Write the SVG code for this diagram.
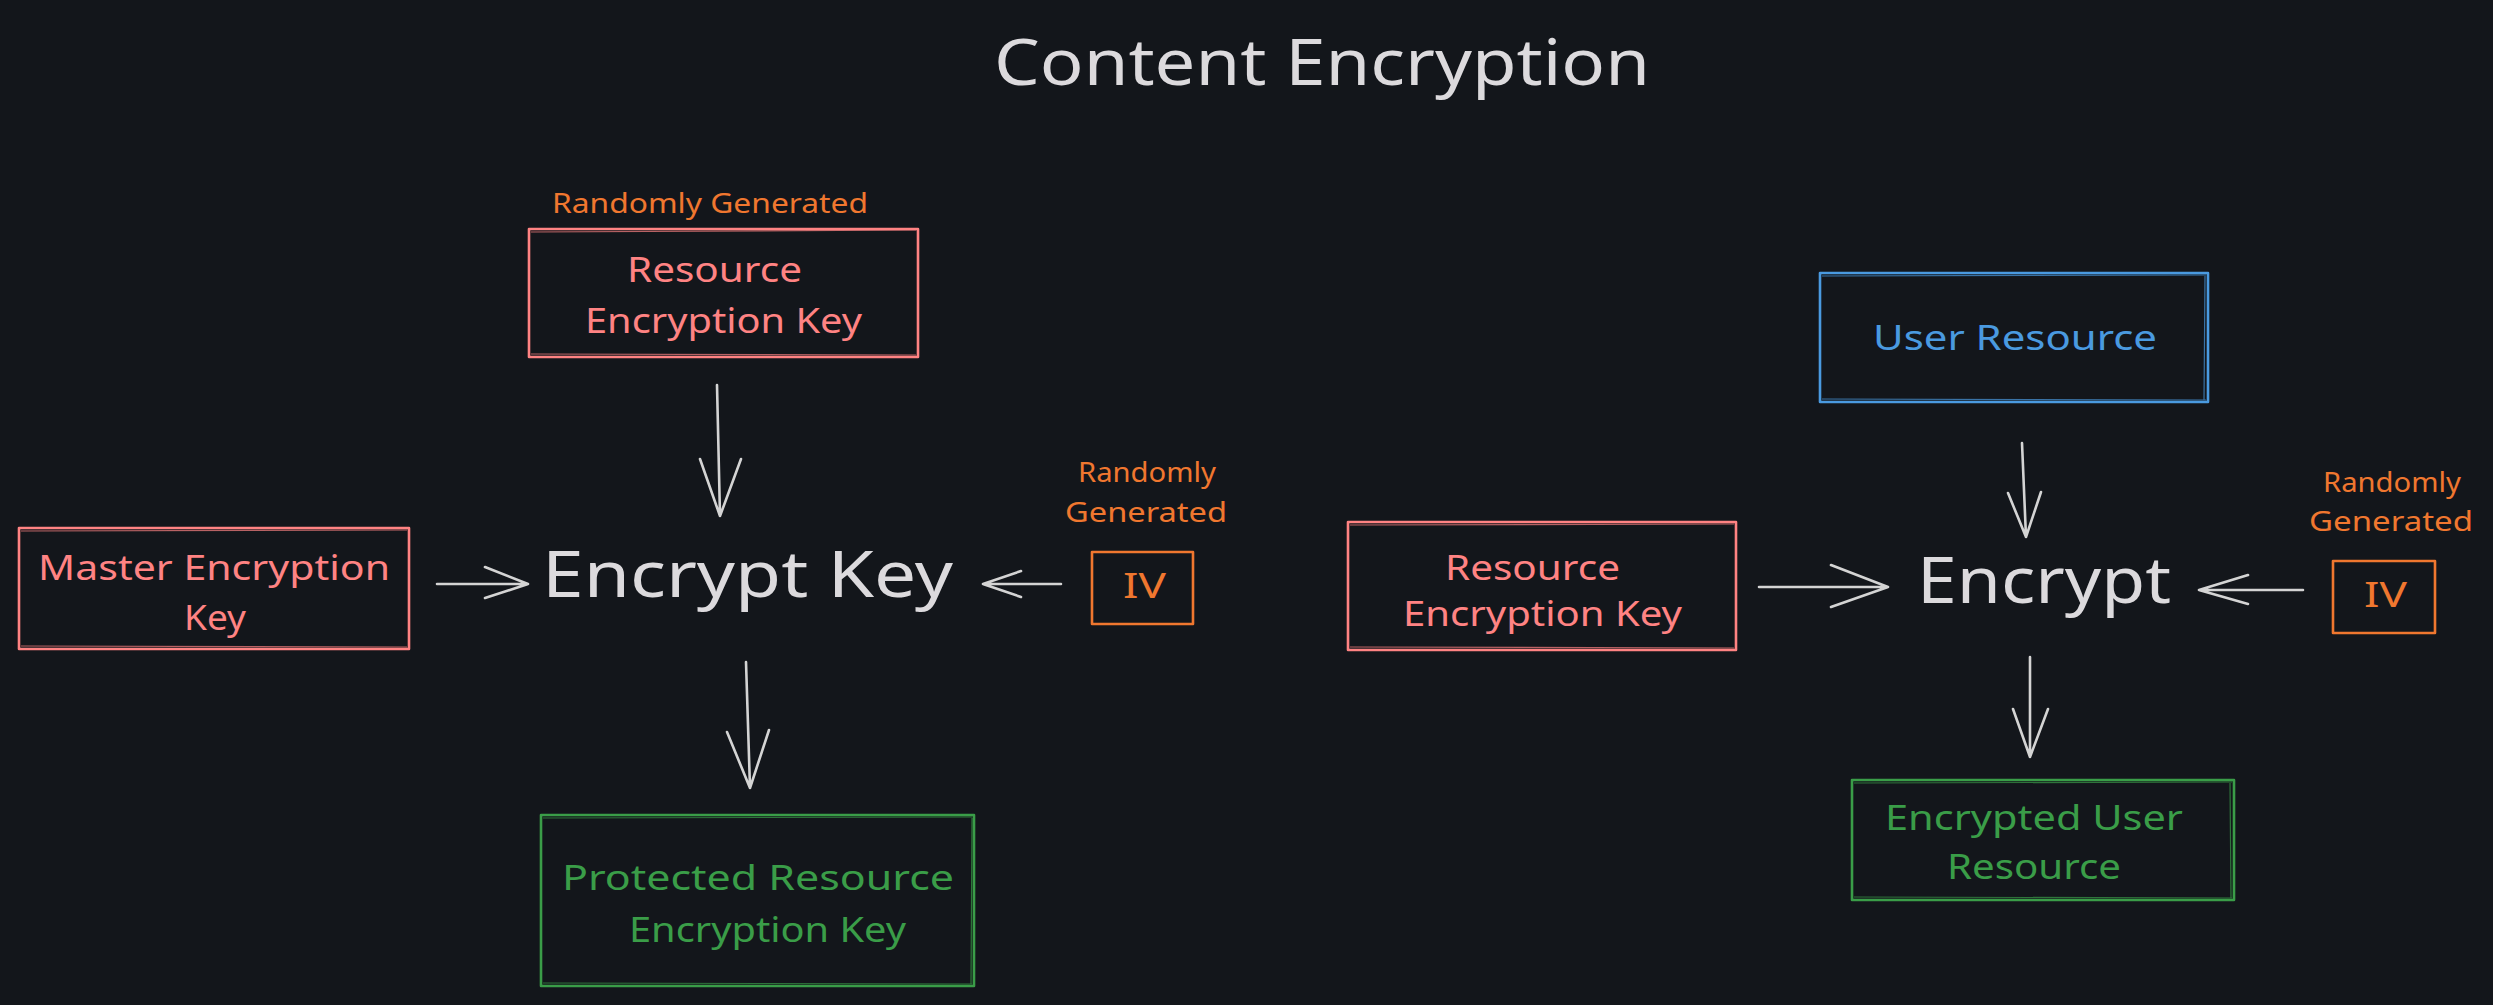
<svg xmlns="http://www.w3.org/2000/svg" width="2493" height="1005" viewBox="0 0 2493 1005">
<style>
text{font-family:"Noto Sans","Liberation Sans",sans-serif}
.t{fill:#dcdadd}
.big{font-size:63px}
.lb{font-size:35px}
.sm{font-size:28px}
.red{fill:#ff8383}
.org{fill:#f0772f}
.grn{fill:#3a9d48}
.blu{fill:#4a9ae0}
.box{fill:none;stroke-width:2.6;stroke-linejoin:round}
.box2{fill:none;stroke-width:1.2;opacity:0.7}
.sr{stroke:#ff8383}
.so{stroke:#f0772f}
.sg{stroke:#3a9d48}
.sb{stroke:#4a9ae0}
.arr{fill:none;stroke:#d4d4d4;stroke-width:2.6;stroke-linecap:round;stroke-linejoin:round}
</style>
<rect width="2493" height="1005" fill="#13161b"/>
<g id="title"><text class="t big" x="994" y="85" textLength="656" lengthAdjust="spacingAndGlyphs">Content Encryption</text></g>

<g id="rek1">
<text class="org sm" x="552" y="213" textLength="316" lengthAdjust="spacingAndGlyphs">Randomly Generated</text>
<rect class="box sr" x="529" y="229" width="389" height="128"/>
<path class="box2 sr" d="M531,232 L916,230 M916,355 L531,354"/>
<text class="red lb" x="627" y="282" textLength="175" lengthAdjust="spacingAndGlyphs">Resource</text>
<text class="red lb" x="585" y="333" textLength="277" lengthAdjust="spacingAndGlyphs">Encryption Key</text>
</g>

<g id="master">
<rect class="box sr" x="19" y="528" width="390" height="121"/>
<path class="box2 sr" d="M21,531 L407,530 M407,647 L21,646"/>
<text class="red lb" x="38" y="580" textLength="352" lengthAdjust="spacingAndGlyphs">Master Encryption</text>
<text class="red lb" x="184" y="630" textLength="62" lengthAdjust="spacingAndGlyphs">Key</text>
</g>

<g id="encryptkey"><text class="t big" x="542" y="597" textLength="411" lengthAdjust="spacingAndGlyphs">Encrypt Key</text></g>

<g id="iv1">
<text class="org sm" x="1078" y="482" textLength="138" lengthAdjust="spacingAndGlyphs">Randomly</text>
<text class="org sm" x="1065" y="522" textLength="162" lengthAdjust="spacingAndGlyphs">Generated</text>
<rect class="box so" x="1092" y="552" width="101" height="72"/>
<text class="org lb" x="1123" y="598" textLength="43" lengthAdjust="spacingAndGlyphs">IV</text>
</g>

<g id="protected">
<rect class="box sg" x="541" y="815" width="433" height="171"/>
<path class="box2 sg" d="M543,818 L972,817 M972,984 L543,983 M972,818 L971,984"/>
<text class="grn lb" x="562" y="890" textLength="392" lengthAdjust="spacingAndGlyphs">Protected Resource</text>
<text class="grn lb" x="629" y="942" textLength="277" lengthAdjust="spacingAndGlyphs">Encryption Key</text>
</g>

<g id="rek2">
<rect class="box sr" x="1348" y="522" width="388" height="128"/>
<path class="box2 sr" d="M1350,525 L1734,524 M1734,648 L1350,647"/>
<text class="red lb" x="1445" y="580" textLength="175" lengthAdjust="spacingAndGlyphs">Resource</text>
<text class="red lb" x="1403" y="626" textLength="279" lengthAdjust="spacingAndGlyphs">Encryption Key</text>
</g>

<g id="encrypt"><text class="t big" x="1917" y="603" textLength="254" lengthAdjust="spacingAndGlyphs">Encrypt</text></g>

<g id="userres">
<rect class="box sb" x="1820" y="273" width="388" height="129"/>
<path class="box2 sb" d="M1822,276 L2206,275 M2206,400 L1822,399 M2205,276 L2204,400"/>
<text class="blu lb" x="1873" y="350" textLength="284" lengthAdjust="spacingAndGlyphs">User Resource</text>
</g>

<g id="iv2">
<text class="org sm" x="2323" y="492" textLength="138" lengthAdjust="spacingAndGlyphs">Randomly</text>
<text class="org sm" x="2309" y="531" textLength="164" lengthAdjust="spacingAndGlyphs">Generated</text>
<rect class="box so" x="2333" y="561" width="102" height="72"/>
<text class="org lb" x="2364" y="607" textLength="43" lengthAdjust="spacingAndGlyphs">IV</text>
</g>

<g id="eur">
<rect class="box sg" x="1852" y="780" width="382" height="120"/>
<path class="box2 sg" d="M1854,783 L2232,782 M2232,898 L1854,897 M2230,783 L2231,898"/>
<text class="grn lb" x="1885" y="830" textLength="298" lengthAdjust="spacingAndGlyphs">Encrypted User</text>
<text class="grn lb" x="1947" y="879" textLength="174" lengthAdjust="spacingAndGlyphs">Resource</text>
</g>

<g id="connectors">
<path class="arr" d="M717,385 L720,516 M700,459 L720,516 L741,459"/>
<path class="arr" d="M437,584 L528,584 M485,567 L528,584 L485,598"/>
<path class="arr" d="M1061,584 L983,584 M1021,571 L983,584 L1021,597"/>
<path class="arr" d="M746,662 L750,788 M727,732 L750,788 L769,730"/>
<path class="arr" d="M1759,587 L1888,587 M1831,565 L1888,587 L1831,607"/>
<path class="arr" d="M2022,443 L2026,537 M2008,493 L2026,537 L2041,492"/>
<path class="arr" d="M2303,590 L2199,590 M2248,575 L2199,590 L2248,604"/>
<path class="arr" d="M2030,657 L2030,757 M2013,709 L2030,757 L2048,709"/>
</g>
</svg>
